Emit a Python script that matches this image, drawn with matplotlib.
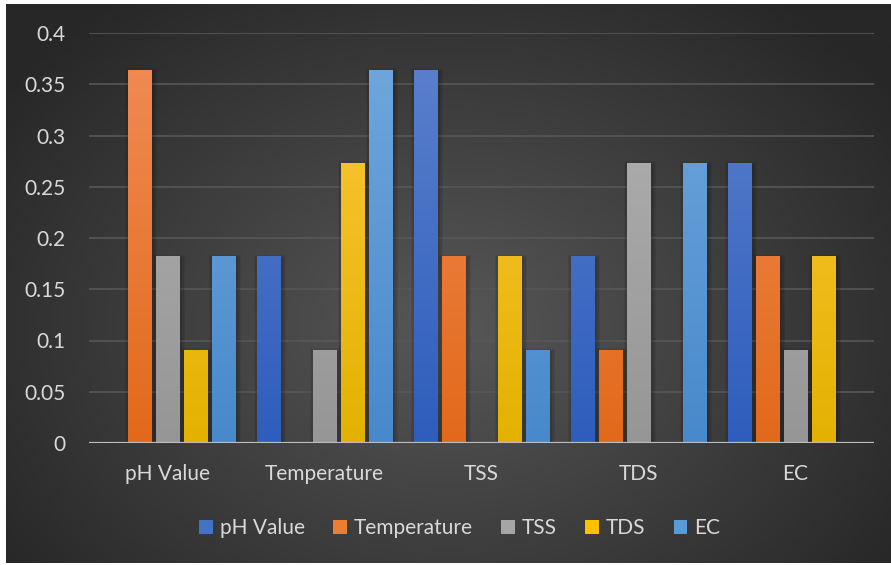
import numpy as np
import matplotlib
matplotlib.use("Agg")
import matplotlib.pyplot as plt
from matplotlib.colors import LinearSegmentedColormap
from matplotlib.patches import Patch
from matplotlib.ticker import FuncFormatter

plt.rcParams["font.family"] = ["Lato", "DejaVu Sans"]

categories = ["pH Value", "Temperature", "TSS", "TDS", "EC"]
series = ["pH Value", "Temperature", "TSS", "TDS", "EC"]

# values per series, one per category
ph_value = [0.0, 0.182, 0.364, 0.182, 0.273]
temperature = [0.364, 0.0, 0.182, 0.091, 0.182]
tss = [0.182, 0.091, 0.0, 0.273, 0.091]
tds = [0.091, 0.273, 0.182, 0.0, 0.182]
ec = [0.182, 0.364, 0.091, 0.273, 0.0]

y_ticks = [0, 0.05, 0.1, 0.15, 0.2, 0.25, 0.3, 0.35, 0.4]

# (top, bottom) gradient colours per series
grad_colors = [
    ("#5d82cd", "#2e5dbd"),
    ("#f18d57", "#e2691a"),
    ("#b3b3b3", "#969696"),
    ("#ffc83f", "#e3b200"),
    ("#72a8de", "#4889cb"),
]
legend_colors = ["#4472c4", "#ed7d31", "#a5a5a5", "#ffc000", "#5b9bd5"]
text_color = "#d9d9d9"

W, H = 891, 565
fig = plt.figure(figsize=(W / 100, H / 100), dpi=100, facecolor="white")

# --- background: radial gradient panel ---
bg = fig.add_axes([6 / W, 2 / H, (W - 6) / W, (H - 6) / H])
bg.set_axis_off()
yy, xx = np.mgrid[0:1:300j, 0:1:450j]
r = np.sqrt(((xx - 0.5) / 0.62) ** 2 + ((yy - 0.42) / 0.75) ** 2)
r = np.clip(r, 0, 1)
bg_cmap = LinearSegmentedColormap.from_list("bg", ["#575757", "#3f3f3f", "#272727"])
bg.imshow(r, cmap=bg_cmap, aspect="auto", extent=[0, 1, 0, 1], origin="lower")
bg.set_xlim(0, 1)
bg.set_ylim(0, 1)

# --- plot area ---
ax = fig.add_axes([89 / W, (H - 443) / H, (874 - 89) / W, (443 - 33) / H])
ax.patch.set_alpha(0)
ax.set_xlim(-0.5, len(categories) - 0.5)
ax.set_ylim(0, 0.4)

for s in ax.spines.values():
    s.set_visible(False)

ax.set_yticks(y_ticks)
ax.yaxis.set_major_formatter(FuncFormatter(lambda v, p: f"{v:.2f}".rstrip("0").rstrip(".")))
ax.grid(axis="y", color="#575757", linewidth=1.2, zorder=0)
ax.set_axisbelow(True)
ax.axhline(0, color="#bdbdbd", linewidth=1.6, zorder=5)

ax.set_xticks(range(len(categories)))
ax.set_xticklabels(categories)
ax.tick_params(axis="both", length=0, colors=text_color, labelsize=15)
ax.tick_params(axis="y", pad=17)
ax.tick_params(axis="x", pad=15)

all_vals = [ph_value, temperature, tss, tds, ec]
pitch = 0.178
bar_w = 0.1465
x = np.arange(len(categories))
grad = np.linspace(0, 1, 256).reshape(-1, 1)

for j, vals in enumerate(all_vals):
    xpos = x + (j - 2) * pitch
    # soft shadow
    for k, a in enumerate([0.10, 0.08, 0.06]):
        px = (k + 1) * 1.6 / 157
        py = (k + 1) * 1.6 * 0.4 / 410
        ax.bar(xpos + 1.5 / 157, [v + py if v > 0 else 0 for v in vals], width=bar_w + 2 * px,
               bottom=-0.003, color="black", alpha=a, linewidth=0, zorder=2)
    bars = ax.bar(xpos, vals, width=bar_w, color=grad_colors[j][0], linewidth=0, zorder=3)
    cmap = LinearSegmentedColormap.from_list(f"g{j}", [grad_colors[j][1], grad_colors[j][0]])
    for b in bars:
        if b.get_height() <= 0:
            continue
        x0 = b.get_x()
        im = ax.imshow(grad, cmap=cmap, aspect="auto", origin="lower",
                       extent=[x0, x0 + b.get_width(), 0, 0.4], zorder=4)
        im.set_clip_path(b)

ax.set_xlim(-0.5, len(categories) - 0.5)
ax.set_ylim(0, 0.4)

handles = [Patch(facecolor=c, edgecolor="none") for c in legend_colors]
fig.legend(handles, series, loc="center", bbox_to_anchor=(460 / W, 1 - 528 / H), ncol=5,
           frameon=False, fontsize=15, labelcolor=text_color, handlelength=0.65,
           handleheight=0.65, handletextpad=0.35, columnspacing=1.35)

fig.savefig("out.png", dpi=100)
